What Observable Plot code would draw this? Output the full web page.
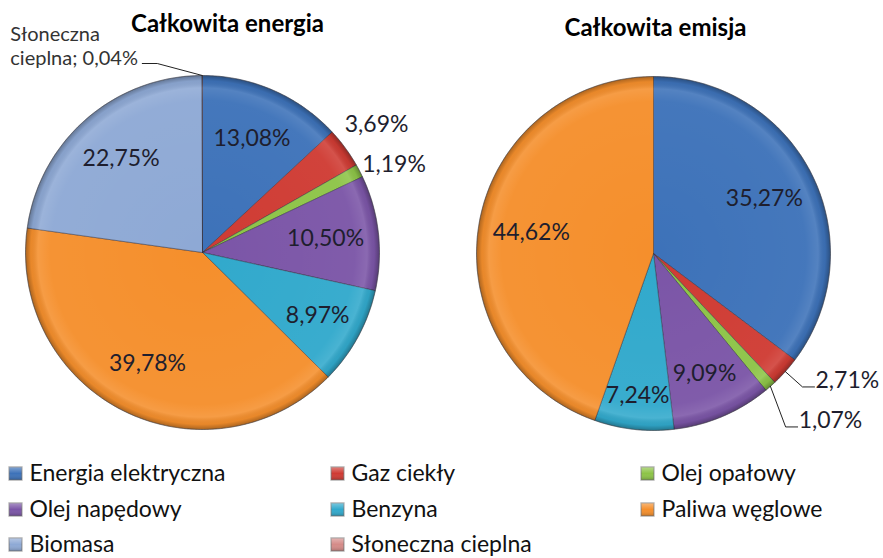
<!DOCTYPE html>
<html>
<head>
<meta charset="utf-8">
<script src="https://cdn.jsdelivr.net/npm/d3@7"></script>
<script src="https://cdn.jsdelivr.net/npm/@observablehq/plot@0.6"></script>
<style>
  html, body { margin: 0; padding: 0; background: #ffffff; }
  #chart { width: 883px; height: 558px; }
</style>
</head>
<body>
<div id="chart"></div>
<script>
// ---------- data ----------
const categories = ["Energia elektryczna", "Gaz ciekły", "Olej opałowy", "Olej napędowy", "Benzyna", "Paliwa węglowe", "Biomasa", "Słoneczna cieplna"];
const energyValues = [13.08, 3.69, 1.19, 10.50, 8.97, 39.78, 22.75, 0.04];
const emissionValues = [35.27, 2.71, 1.07, 9.09, 7.24, 44.62, 0, 0];
const seriesColors = ["#3d72b9", "#cf3b33", "#8dc447", "#7b55a7", "#31a9cc", "#f58f2c", "#8ea9d5", "#d58b88"];
const pieTitles = ["Całkowita energia", "Całkowita emisja"];

// ---------- layout ----------
const W = 883, H = 558;
const FONT = "Lato, 'Open Sans', 'Noto Sans', sans-serif";
const pies = [
  {id: 0, values: energyValues, cx: 202, cy: 252, r: 177, title: pieTitles[0], tx: 227, ty: 24, smallMode: "outside"},
  {id: 1, values: emissionValues, cx: 653, cy: 253, r: 177, title: pieTitles[1], tx: 655, ty: 28, smallMode: "leader"}
];
const fmt = v => v.toFixed(2).replace(".", ",") + "%";

const slices = [];
const insideLabels = [];
const outsideLabels = [];
const leaderLabels = [];
const nameLabels = [];
const leaders = [];

for (const p of pies) {
  const pt = (a, rho) => [p.cx + rho * Math.sin(a), p.cy - rho * Math.cos(a)];
  const total = d3.sum(p.values);
  let cum = 0;
  let lastLeaderY = -Infinity;
  let lastOutsideY = -Infinity;
  p.values.forEach((v, i) => {
    if (v <= 0) return;
    const a0 = cum / total * 2 * Math.PI;
    const a1 = (cum + v) / total * 2 * Math.PI;
    cum += v;
    const key = p.id + "-" + i;
    const n = Math.max(2, Math.ceil((a1 - a0) / (Math.PI / 360)));
    const pts = [[p.cx, p.cy]];
    for (let k = 0; k <= n; k++) pts.push(pt(a0 + (a1 - a0) * k / n, p.r));
    pts.push([p.cx, p.cy]);
    pts.forEach(([x, y], j) => slices.push({key, category: categories[i], x, y, j}));

    const mid = (a0 + a1) / 2;
    if (v >= 5) {
      const f = 0.70 + Math.max(0, 10 - v) * 0.04;
      const [x, y] = pt(mid, p.r * f);
      insideLabels.push({x, y, text: fmt(v)});
    } else if (v >= 0.5) {
      if (p.smallMode === "outside") {
        let [x, y] = pt(mid, p.r * 1.22);
        if (y < lastOutsideY + 40) y = lastOutsideY + 40;
        lastOutsideY = y;
        outsideLabels.push({x, y, text: fmt(v)});
      } else {
        const [ex, ey] = pt(mid, p.r);
        let [bx, by] = pt(mid, p.r * 1.13);
        if (by < lastLeaderY + 40) by = lastLeaderY + 40;
        lastLeaderY = by;
        const hx = bx + 12;
        [[ex, ey], [bx, by], [hx, by]].forEach(([x, y], j) => leaders.push({key, x, y, j}));
        leaderLabels.push({x: hx + 1, y: by - 6, text: fmt(v)});
      }
    } else {
      // tiny slice: category name label with leader to the upper left
      const [ex, ey] = pt(mid, p.r);
      const bx = ex - 45, by = ey - 12;
      const hx = bx - 15;
      [[ex, ey], [bx, by], [hx, by]].forEach(([x, y], j) => leaders.push({key, x, y, j}));
      nameLabels.push({x: hx - 132, y: by + 1, text: "Słoneczna\ncieplna; " + fmt(v)});
    }
  });
}

// legend layout: 3 columns
const colX = [8, 330, 640];
const rowY = [473, 509, 544];
const legend = categories.map((c, i) => ({category: c, x: colX[i % 3], y: rowY[Math.floor(i / 3)]}));

function defsMark() {
  const g = document.createElementNS("http://www.w3.org/2000/svg", "g");
  g.innerHTML = `<defs>
    <radialGradient id="shade" cx="50%" cy="50%" r="50%">
      <stop offset="0%" stop-color="#ffffff" stop-opacity="0"/>
      <stop offset="86%" stop-color="#ffffff" stop-opacity="0.04"/>
      <stop offset="93%" stop-color="#ffffff" stop-opacity="0.12"/>
      <stop offset="97%" stop-color="#000000" stop-opacity="0.05"/>
      <stop offset="100%" stop-color="#000000" stop-opacity="0.3"/>
    </radialGradient>
    <linearGradient id="sq" x1="0" y1="0" x2="0" y2="1">
      <stop offset="0%" stop-color="#ffffff" stop-opacity="0.35"/>
      <stop offset="50%" stop-color="#ffffff" stop-opacity="0"/>
      <stop offset="100%" stop-color="#000000" stop-opacity="0.2"/>
    </linearGradient>
  </defs>`;
  return g;
}

const chart = Plot.plot({
  width: W,
  height: H,
  margin: 0,
  x: {domain: [0, W], range: [0, W], axis: null},
  y: {domain: [0, H], range: [0, H], axis: null},
  color: {domain: categories, range: seriesColors},
  style: {fontFamily: FONT, background: "#ffffff", overflow: "visible"},
  marks: [
    defsMark,
    Plot.line(slices, {x: "x", y: "y", z: "key", fill: "category", stroke: "#2a2a3a", strokeOpacity: 0.45, strokeWidth: 1, curve: "linear"}),
    Plot.dot(pies, {x: "cx", y: "cy", r: 177, fill: "url(#shade)", stroke: "#555", strokeOpacity: 0.35, strokeWidth: 1}),
    Plot.text(pies, {x: "tx", y: "ty", text: "title", fontSize: 24, fontWeight: "bold", fill: "#000"}),
    Plot.text(insideLabels, {x: "x", y: "y", text: "text", fontSize: 23, fill: "#1e1e2e"}),
    Plot.text(outsideLabels, {x: "x", y: "y", text: "text", fontSize: 23, fill: "#1e1e2e"}),
    Plot.line(leaders, {x: "x", y: "y", z: "key", stroke: "#222", strokeWidth: 1}),
    Plot.text(leaderLabels, {x: "x", y: "y", text: "text", fontSize: 23, fill: "#1e1e2e", textAnchor: "start"}),
    Plot.text(nameLabels, {x: "x", y: "y", text: "text", fontSize: 20, fill: "#333", textAnchor: "start", lineAnchor: "bottom", lineHeight: 1.2}),
    Plot.dot(legend, {x: d => d.x + 7, y: "y", symbol: "square", r: 7.2, fill: "category", stroke: "#666", strokeOpacity: 0.5}),
    Plot.dot(legend, {x: d => d.x + 7, y: "y", symbol: "square", r: 7.2, fill: "url(#sq)"}),
    Plot.text(legend, {x: d => d.x + 21, y: "y", text: "category", fontSize: 23, fill: "#111", textAnchor: "start"})
  ]
});

document.getElementById("chart").appendChild(chart);
</script>
</body>
</html>
